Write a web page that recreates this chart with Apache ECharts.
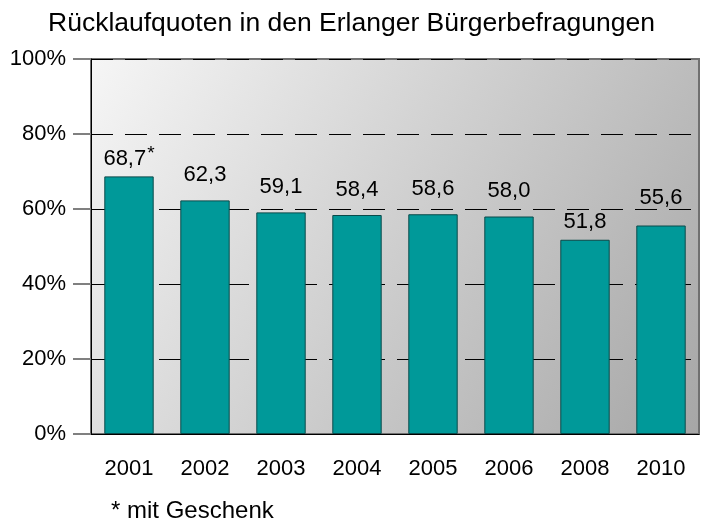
<!DOCTYPE html>
<html>
<head>
<meta charset="utf-8">
<script src="https://cdn.jsdelivr.net/npm/echarts@6/dist/echarts.min.js"></script>
<style>
  html, body { margin: 0; padding: 0; background: #fff; }
  #chart { width: 705px; height: 526px; }
</style>
</head>
<body>
<div id="chart"></div>
<script>
// Rücklaufquoten (in %) je Befragungsjahr
var years = ['2001', '2002', '2003', '2004', '2005', '2006', '2008', '2010'];
var quotes = [68.7, 62.3, 59.1, 58.4, 58.6, 58.0, 51.8, 55.6];
var withGift = ['2001'];
var yTicks = [0, 20, 40, 60, 80, 100];

var FONT = 'Liberation Sans, Arial, Helvetica, sans-serif';

// some labels were nudged by hand in the original so they clear the gridlines
var labelNudge = { '2001': 1.5, '2008': 7, '2010': 17 };

var chart = echarts.init(document.getElementById('chart'), null, { renderer: 'canvas' });

function fmt(v) {
  return v.toFixed(1).replace('.', ',');
}

var barData = quotes.map(function (v, i) {
  if (labelNudge[years[i]] !== undefined) {
    return { value: v, label: { distance: labelNudge[years[i]] } };
  }
  return v;
});

var option = {
  animation: false,
  title: {
    text: 'Rücklaufquoten in den Erlanger Bürgerbefragungen',
    left: 43,
    top: 5,
    textStyle: { fontFamily: FONT, fontSize: 26.5, fontWeight: 'normal', color: '#000' }
  },
  grid: {
    left: 91, top: 59, width: 608, height: 375,
    show: true,
    borderColor: '#707070',
    borderWidth: 2,
    backgroundColor: new echarts.graphic.LinearGradient(0, 0, 1, 1, [
      { offset: 0, color: '#f6f6f6' },
      { offset: 1, color: '#a6a6a6' }
    ])
  },
  xAxis: {
    type: 'category',
    data: years,
    axisLine: { lineStyle: { color: '#000', width: 1 } },
    axisTick: { show: false },
    axisLabel: { margin: 24, fontFamily: FONT, fontSize: 22, color: '#000' }
  },
  yAxis: {
    type: 'value',
    min: yTicks[0],
    max: yTicks[yTicks.length - 1],
    interval: 20,
    axisLine: { show: true, lineStyle: { color: '#000', width: 1 } },
    axisTick: { show: true, length: 18, lineStyle: { color: '#808080', width: 2 } },
    axisLabel: {
      margin: 25,
      fontFamily: FONT, fontSize: 22, color: '#000',
      formatter: '{value}%'
    },
    splitLine: { show: true, lineStyle: { color: '#000', type: [22, 12], width: 1 } }
  },
  series: [{
    type: 'bar',
    data: barData,
    barWidth: '65%',
    itemStyle: { color: '#009999', borderColor: '#0a4a4a', borderWidth: 1 },
    label: {
      show: true,
      position: 'top',
      distance: 14.5,
      color: '#000',
      fontFamily: FONT,
      fontSize: 22,
      formatter: function (p) {
        var t = fmt(p.value);
        return withGift.indexOf(p.name) >= 0 ? '{v|' + t + '}{s|*}' : t;
      },
      rich: {
        v: { fontFamily: FONT, fontSize: 22, color: '#000' },
        s: { fontFamily: FONT, fontSize: 19, color: '#000', verticalAlign: 'top', padding: [0, 0, 12, 1] }
      }
    }
  }],
  graphic: [{
    type: 'text',
    left: 111,
    top: 499,
    style: { text: '* mit Geschenk', font: '24px ' + FONT, fill: '#000' }
  }]
};

chart.setOption(option);
</script>
</body>
</html>
